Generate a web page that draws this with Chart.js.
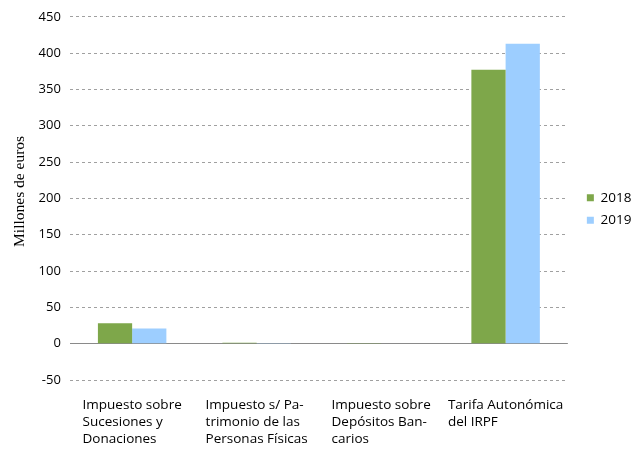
<!DOCTYPE html>
<html>
<head>
<meta charset="utf-8">
<script src="https://cdn.jsdelivr.net/npm/chart.js@4"></script>
<style>
html,body{margin:0;padding:0;background:#fff;}
#wrap{width:638px;height:449px;}
</style>
</head>
<body>
<div id="wrap"><canvas id="c" width="638" height="449"></canvas></div>
<script>
const categories = [
  ["Impuesto sobre", "Sucesiones y", "Donaciones"],
  ["Impuesto s/ Pa-", "trimonio de las", "Personas Físicas"],
  ["Impuesto sobre", "Depósitos Ban-", "carios"],
  ["Tarifa Autonómica", "del IRPF"]
];
const seriesNames = ["2018", "2019"];
const values2018 = [28, 1.2, 0.8, 377];
const values2019 = [21, 1.0, 0, 413];
const yTitle = "Millones de euros";

Chart.defaults.font.family = "'Open Sans', sans-serif";
Chart.defaults.color = "#000";

// legend placement tweak
const legendShift = {
  id: 'legendShift',
  afterLayout(chart) {
    const lg = chart.legend;
    if (!lg) return;
    lg.bottom -= 31;
    lg.left += 10;
    lg.right += 10;
  }
};

// center each wrapped x label block on its category, lines left-aligned;
// nudge the y title slightly upward as in the reference
const blockLabels = {
  id: 'blockLabels',
  beforeDraw(chart) {
    const sx = chart.scales.x;
    const items = sx.getLabelItems(chart.chartArea);
    const ctx = chart.ctx;
    items.forEach(it => {
      if (it._shifted) return;
      ctx.save();
      ctx.font = it.font.string;
      const lines = Array.isArray(it.label) ? it.label : [it.label];
      const w = Math.max(...lines.map(l => ctx.measureText(l).width));
      ctx.restore();
      it.options.translation[0] -= w / 2;
      it._shifted = true;
    });
    const sy = chart.scales.y;
    if (!sy._titleWrapped) {
      const orig = sy.drawTitle;
      sy.drawTitle = function () {
        const b = this.bottom;
        this.bottom = b - 14;
        orig.apply(this, arguments);
        this.bottom = b;
      };
      sy._titleWrapped = true;
    }
  }
};

new Chart(document.getElementById('c'), {
  type: 'bar',
  data: {
    labels: categories,
    datasets: [
      { label: seriesNames[0], data: values2018, backgroundColor: '#7EA74A', borderWidth: 0 },
      { label: seriesNames[1], data: values2019, backgroundColor: '#9DCEFF', borderWidth: 0 }
    ]
  },
  plugins: [legendShift, blockLabels],
  options: {
    responsive: false,
    animation: false,
    devicePixelRatio: 1,
    categoryPercentage: 0.55,
    barPercentage: 1.0,
    layout: { padding: { top: 0, right: 0, left: 7, bottom: 0 } },
    plugins: {
      legend: {
        position: 'right',
        labels: { boxWidth: 7, boxHeight: 7, padding: 9, font: { size: 13.5 } }
      },
      tooltip: { enabled: false }
    },
    scales: {
      x: {
        grid: { display: false },
        border: { display: false },
        afterFit(scale) { scale.height = 69; },
        ticks: {
          autoSkip: false, maxRotation: 0, minRotation: 0,
          align: 'start', labelOffset: 0, padding: 9,
          font: { size: 13.5, lineHeight: 1.26 }
        }
      },
      y: {
        min: -50, max: 450,
        ticks: { stepSize: 50, padding: 9, font: { size: 13 } },
        grid: {
          drawTicks: false,
          color: (ctx) => ctx.tick && ctx.tick.value === 0 ? '#8a8a8a' : '#a0a0a0',
          lineWidth: 1
        },
        border: {
          display: false,
          dash: (ctx) => ctx.tick && ctx.tick.value === 0 ? [] : [3, 3]
        },
        title: {
          display: true, text: yTitle,
          font: { family: "'Liberation Serif', serif", size: 15.5 },
          padding: { bottom: 0 }
        }
      }
    }
  }
});
</script>
</body>
</html>
